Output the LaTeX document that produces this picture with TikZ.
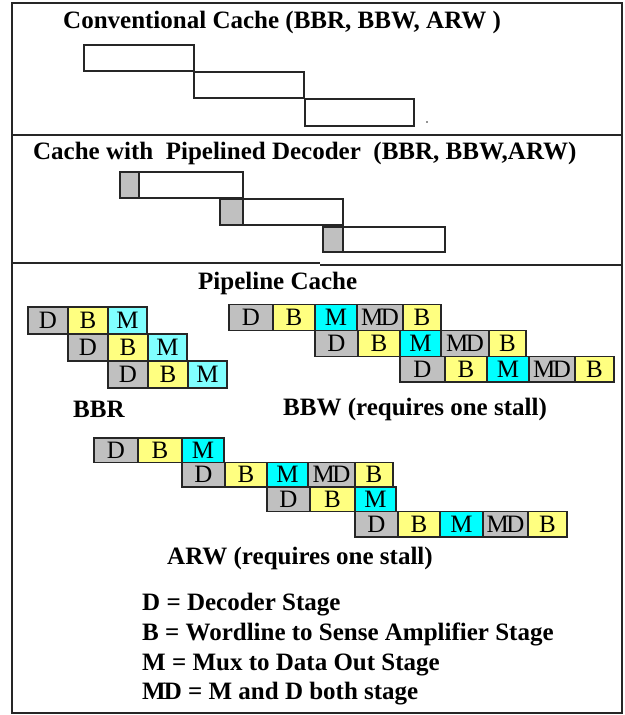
\documentclass[tikz,border=0pt]{standalone}
\usepackage{fontspec}
\setmainfont{Liberation Serif}
\definecolor{cgray}{HTML}{C0C0C0}
\definecolor{cyel}{HTML}{FFFF80}
\definecolor{ccyan}{HTML}{00FFFF}
\definecolor{clcyan}{HTML}{80FFFF}
\definecolor{edge}{HTML}{262626}
\tikzset{
  frameline/.style={draw=edge, line width=1.6pt},
  blk/.style={draw=edge, line width=1.4pt, fill=white, inner sep=0pt, outer sep=0pt, anchor=north west},
  cellbase/.style={draw=edge, line width=1.2pt, inner sep=0pt, outer sep=0pt, anchor=north west, font=\fontsize{25}{25}\selectfont},
  cD/.style={cellbase, fill=cgray},
  cB/.style={cellbase, fill=cyel},
  cM/.style={cellbase, fill=ccyan},
  cML/.style={cellbase, fill=clcyan},
  cMD/.style={cellbase, fill=cgray},
  title/.style={anchor=base west, inner sep=0pt, font=\fontsize{25}{30}\selectfont\bfseries},
}
\newcommand\pcell[7]{\node[#2, minimum width={(#4-#3)*1pt}, minimum height={(#6-#5)*1pt}] (#1) at (#3,#5) {#7};}
\newcommand\mdtxt{M\kern-2.5pt D}
\begin{document}
\begin{tikzpicture}[x=1pt,y=-1pt]
\useasboundingbox (0,0) rectangle (624,715);
% frame and dividers
\draw[frameline] (12,3) rectangle (622,713);
\draw[frameline] (12,135) -- (622,135);
\draw[frameline] (12,263) -- (320,263);
\draw[frameline] (320,265) -- (622,265);

% section 1
\node[title] (t1) at (63,28) {Conventional Cache (BBR, BBW, ARW )};
\pcell{c1}{blk}{84}{194}{45}{71}{}
\pcell{c2}{blk}{194}{304}{72}{98}{}
\pcell{c3}{blk}{305}{414}{99}{126}{}
\node[circle, fill=edge, inner sep=0pt, minimum size=1.6pt] (dot) at (427,122) {};

% section 2
\node[title] (t2) at (33,159) {Cache with\ \ Pipelined Decoder\ \ (BBR, BBW,ARW)};
\pcell{p1}{blk}{120}{243}{172}{198}{}
\pcell{p1d}{blk, fill=cgray}{120}{139}{172}{198}{}
\pcell{p2}{blk}{220}{343}{199}{225}{}
\pcell{p2d}{blk, fill=cgray}{220}{243}{199}{225}{}
\pcell{p3}{blk}{323}{445}{227}{252}{}
\pcell{p3d}{blk, fill=cgray}{323}{343}{227}{252}{}

% section 3
\node[title] (t3) at (198,289) {Pipeline Cache};

% BBR
\pcell{r1d}{cD}{28}{68}{307}{334}{D}
\pcell{r1b}{cB}{68}{108}{307}{334}{B}
\pcell{r1m}{cML}{108}{147}{307}{334}{M}
\pcell{r2d}{cD}{68}{108}{334}{361}{D}
\pcell{r2b}{cB}{108}{148}{334}{361}{B}
\pcell{r2m}{cML}{148}{187}{334}{361}{M}
\pcell{r3d}{cD}{108}{148}{361}{388}{D}
\pcell{r3b}{cB}{148}{188}{361}{388}{B}
\pcell{r3m}{cML}{188}{227}{361}{388}{M}
\node[title] (lbbr) at (73,417) {BBR};

% BBW
\pcell{w1d}{cD}{229}{273}{304.5}{330.5}{D}
\pcell{w1b}{cB}{273}{315}{304.5}{330.5}{B}
\pcell{w1m}{cM}{315}{357}{304.5}{330.5}{M}
\pcell{w1x}{cMD}{357}{403}{304.5}{330.5}{\mdtxt}
\pcell{w1e}{cB}{403}{441}{304.5}{330.5}{B}
\pcell{w2d}{cD}{315}{358}{330.5}{356.5}{D}
\pcell{w2b}{cB}{358}{400}{330.5}{356.5}{B}
\pcell{w2m}{cM}{400}{441}{330.5}{356.5}{M}
\pcell{w2x}{cMD}{441}{489}{330.5}{356.5}{\mdtxt}
\pcell{w2e}{cB}{489}{526}{330.5}{356.5}{B}
\pcell{w3d}{cD}{400}{445}{356.5}{382}{D}
\pcell{w3b}{cB}{445}{487}{356.5}{382}{B}
\pcell{w3m}{cM}{487}{529}{356.5}{382}{M}
\pcell{w3x}{cMD}{529}{575}{356.5}{382}{\mdtxt}
\pcell{w3e}{cB}{575}{614}{356.5}{382}{B}
\node[title] (lbbw) at (283,415) {BBW (requires one stall)};

% ARW
\pcell{a1d}{cD}{94}{138}{438}{462.5}{D}
\pcell{a1b}{cB}{138}{182}{438}{462.5}{B}
\pcell{a1m}{cM}{182}{224}{438}{462.5}{M}
\pcell{a2d}{cD}{182}{225}{462.5}{487}{D}
\pcell{a2b}{cB}{225}{267}{462.5}{487}{B}
\pcell{a2m}{cM}{267}{308}{462.5}{487}{M}
\pcell{a2x}{cMD}{308}{355}{462.5}{487}{\mdtxt}
\pcell{a2e}{cB}{355}{393}{462.5}{487}{B}
\pcell{a3d}{cD}{267}{310}{487}{511.5}{D}
\pcell{a3b}{cB}{310}{355}{487}{511.5}{B}
\pcell{a3m}{cM}{355}{396}{487}{511.5}{M}
\pcell{a4d}{cD}{355}{398}{511.5}{537}{D}
\pcell{a4b}{cB}{398}{440}{511.5}{537}{B}
\pcell{a4m}{cM}{440}{483}{511.5}{537}{M}
\pcell{a4x}{cMD}{483}{528}{511.5}{537}{\mdtxt}
\pcell{a4e}{cB}{528}{567}{511.5}{537}{B}
\node[title] (larw) at (167,564) {ARW (requires one stall)};

% legend
\node[title] (g1) at (142,610) {D = Decoder Stage};
\node[title] (g2) at (142,640) {B = Wordline to Sense Amplifier Stage};
\node[title] (g3) at (142,670) {M = Mux to Data Out Stage};
\node[title] (g4) at (142,699) {M\kern-2pt D = M and D both stage};
\end{tikzpicture}
\end{document}
